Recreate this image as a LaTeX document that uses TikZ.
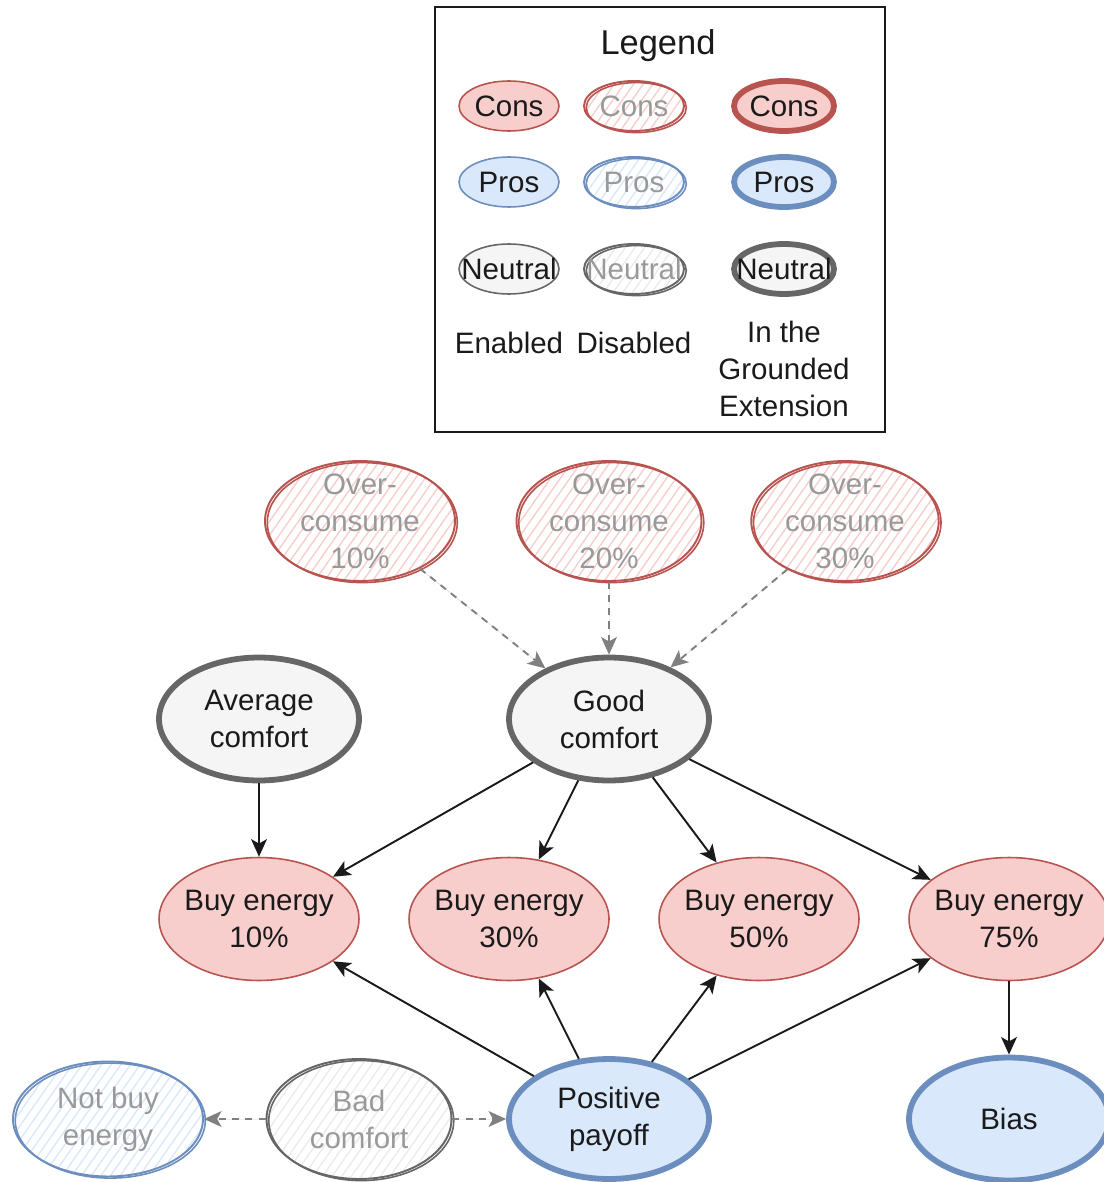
\documentclass[tikz,border=0pt]{standalone}
\usepackage{fontspec}
\setmainfont{Liberation Sans}
\usepackage{xcolor}
\definecolor{consFill}{HTML}{F8CECC}
\definecolor{consLine}{HTML}{B85450}
\definecolor{prosFill}{HTML}{DAE8FC}
\definecolor{prosLine}{HTML}{6C8EBF}
\definecolor{neutFill}{HTML}{F5F5F5}
\definecolor{neutLine}{HTML}{666666}
\definecolor{offText}{HTML}{999999}
\definecolor{offArrow}{HTML}{808080}
\definecolor{inkBlack}{HTML}{1A1A1A}
\usepackage{tikz}
\usetikzlibrary{shapes.geometric, arrows.meta, patterns.meta}

\begin{document}
\begin{tikzpicture}[
        x=0.02cm, y=-0.02cm,
        baseNode/.style={
            ellipse,
            inner sep=0pt,
            line width=0.9pt,
            minimum width=4cm,
            minimum height=2.46cm
        },
        legendNode/.style={
            baseNode,
            minimum width=2cm,
            minimum height=1cm
        },
        onText/.style={
            label={[font=\fontsize{16.8}{21}\selectfont, text=inkBlack, align=center]center:{#1}}
        },
        offText/.style={
            label={[font=\fontsize{16.8}{21}\selectfont, text=offText, align=center]center:{#1}}
        },
        consOn/.style={draw=consLine, fill=consFill},
        prosOn/.style={draw=prosLine, fill=prosFill},
        neutOn/.style={draw=neutLine, fill=neutFill},
        grounded/.style={line width=3.3pt},
        consOff/.style={
            draw=consLine,
            line width=1.1pt,
            pattern={Lines[angle=55, distance=4.5pt, line width=0.8pt]},
            pattern color=consFill,
            postaction={draw=consLine, line width=0.9pt, transform canvas={xshift=1.3pt, yshift=-0.9pt}}
        },
        prosOff/.style={
            draw=prosLine,
            line width=1.1pt,
            pattern={Lines[angle=55, distance=4.5pt, line width=0.8pt]},
            pattern color=prosFill,
            postaction={draw=prosLine, line width=0.9pt, transform canvas={xshift=1.3pt, yshift=-0.9pt}}
        },
        neutOff/.style={
            draw=neutLine,
            line width=1.1pt,
            pattern={Lines[angle=55, distance=4.5pt, line width=0.8pt]},
            pattern color=black!8,
            postaction={draw=neutLine, line width=0.9pt, transform canvas={xshift=1.3pt, yshift=-0.9pt}}
        },
        attackArrow/.style={
            -{Stealth[length=10pt, width=9pt, inset=2.5pt]},
            line width=1.1pt,
            draw=inkBlack,
            fill=inkBlack
        },
        offArrowLine/.style={
            -{Stealth[length=10pt, width=9pt, inset=2.5pt]},
            line width=1.1pt,
            dash pattern=on 4pt off 3.5pt,
            draw=offArrow,
            fill=offArrow
        },
        plainText/.style={
            font=\fontsize{16.8}{21}\selectfont,
            text=inkBlack,
            align=center
        }
    ]
    \useasboundingbox (0,0) rectangle (1104,1182);

    % Legend
    \node[draw=inkBlack, line width=1.1pt, minimum width=9cm, minimum height=8.5cm] (legendBox) at (660,219.5) {};
    \node[plainText, font=\fontsize{19.6}{24}\selectfont] (legendTitle) at (658,46) {Legend};

    \node[legendNode, consOn, onText=Cons] (lgConsOn) at (509,106) {};
    \node[legendNode, consOff, offText=Cons] (lgConsOff) at (634,106) {};
    \node[legendNode, consOn, grounded, onText=Cons] (lgConsGr) at (784,106) {};

    \node[legendNode, prosOn, onText=Pros] (lgProsOn) at (509,182) {};
    \node[legendNode, prosOff, offText=Pros] (lgProsOff) at (634,182) {};
    \node[legendNode, prosOn, grounded, onText=Pros] (lgProsGr) at (784,182) {};

    \node[legendNode, neutOn, onText=Neutral] (lgNeutOn) at (509,269) {};
    \node[legendNode, neutOff, offText=Neutral] (lgNeutOff) at (634,269) {};
    \node[legendNode, neutOn, grounded, onText=Neutral] (lgNeutGr) at (784,269) {};

    \node[plainText] (lgEnabled) at (509,343) {Enabled};
    \node[plainText] (lgDisabled) at (634,343) {Disabled};
    \node[plainText] (lgGrounded) at (784,369) {In the\\Grounded\\Extension};

    % Arguments
    \node[baseNode, consOff, minimum width=3.8cm, minimum height=2.4cm, offText={Over-\\consume\\10\%}] (over10) at (360,521) {};
    \node[baseNode, consOff, minimum width=3.7cm, minimum height=2.4cm, offText={Over-\\consume\\20\%}] (over20) at (609,521) {};
    \node[baseNode, consOff, minimum width=3.75cm, minimum height=2.4cm, offText={Over-\\consume\\30\%}] (over30) at (845,521) {};

    \node[baseNode, neutOn, grounded, onText={Average\\comfort}] (avgComfort) at (259,719) {};
    \node[baseNode, neutOn, grounded, onText={Good\\comfort}] (goodComfort) at (609,719) {};

    \node[baseNode, consOn, onText={Buy energy\\10\%}] (buy10) at (259,919) {};
    \node[baseNode, consOn, onText={Buy energy\\30\%}] (buy30) at (509,919) {};
    \node[baseNode, consOn, onText={Buy energy\\50\%}] (buy50) at (759,919) {};
    \node[baseNode, consOn, onText={Buy energy\\75\%}] (buy75) at (1009,919) {};

    \node[baseNode, prosOff, minimum width=3.8cm, minimum height=2.3cm, offText={Not buy\\energy}] (notBuy) at (108,1119) {};
    \node[baseNode, neutOff, minimum width=3.7cm, minimum height=2.4cm, offText={Bad\\comfort}] (badComfort) at (359,1119) {};
    \node[baseNode, prosOn, grounded, minimum height=2.4cm, onText={Positive\\payoff}] (posPayoff) at (609,1119) {};
    \node[baseNode, prosOn, grounded, onText=Bias] (bias) at (1009,1119) {};

    % Disabled attacks
    \draw[offArrowLine] (over10) -- (goodComfort);
    \draw[offArrowLine] (over20) -- (goodComfort);
    \draw[offArrowLine] (over30) -- (goodComfort);
    \draw[offArrowLine] (badComfort) -- (notBuy);
    \draw[offArrowLine] (badComfort) -- (posPayoff);

    % Attacks
    \draw[attackArrow] (avgComfort) -- (buy10);
    \foreach \target in {buy10, buy30, buy50, buy75} {
        \draw[attackArrow] (goodComfort) -- (\target);
        \draw[attackArrow] (posPayoff) -- (\target);
    }
    \draw[attackArrow] (buy75) -- (bias);

\end{tikzpicture}
\end{document}
